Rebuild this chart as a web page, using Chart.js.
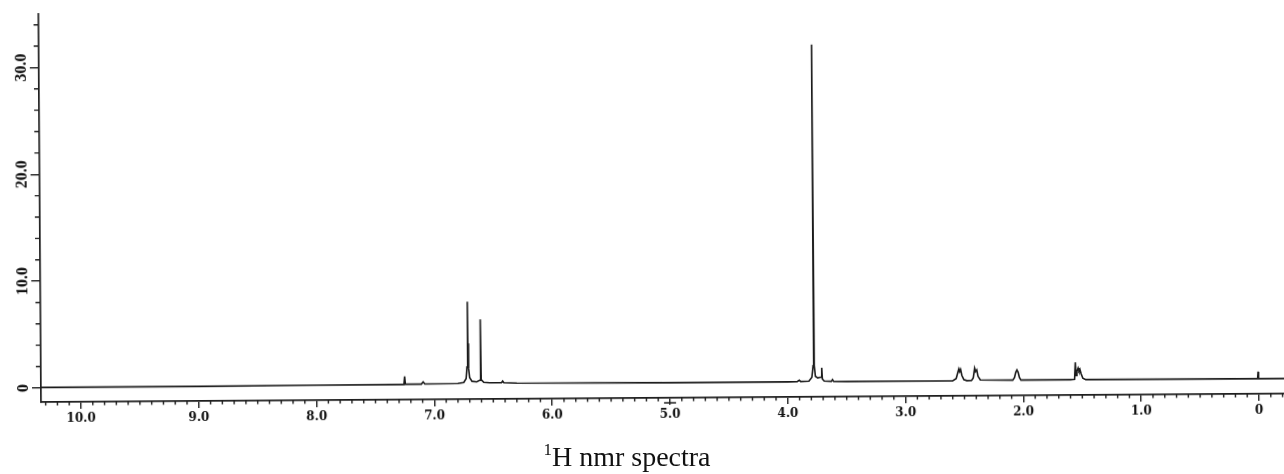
<!DOCTYPE html>
<html>
<head>
<meta charset="utf-8">
<script src="https://cdn.jsdelivr.net/npm/chart.js@4.4.1/dist/chart.umd.min.js"></script>
<style>
  html, body { margin: 0; padding: 0; background: #ffffff; }
  #wrap { position: absolute; left: 0; top: 0; width: 1284px; height: 474px; overflow: hidden; background: #fff; }
  #tilt { position: absolute; left: 0; top: 0; width: 1284px; height: 474px; transform: rotate(-0.39deg); transform-origin: 642px 237px; }
  #caption { position: absolute; left: 0; top: 443px; width: 1254px; text-align: center;
             font-family: "Liberation Serif", "Times New Roman", serif; font-size: 28px; line-height: 28px; color: #111; }
  #caption sup { font-size: 17px; line-height: 0; vertical-align: 11px; }
</style>
</head>
<body>
<div id="wrap">
  <div id="tilt"><canvas id="c" width="1284" height="474"></canvas></div>
  <div id="caption"><sup>1</sup>H nmr spectra</div>
</div>
<script>
// chemical shift (ppm) of each traced point of the spectrum
const shift = [
  10.34, 9.00, 8.00, 7.30,
  7.258, 7.252, 7.246,
  7.11, 7.095, 7.08,
  6.80, 6.75, 6.73, 6.722, 6.716, 6.713, 6.710, 6.706, 6.70, 6.68,
  6.64, 6.612, 6.607, 6.602, 6.58, 6.53,
  6.43, 6.42, 6.41, 6.30,
  5.00, 4.00, 3.92, 3.902, 3.89,
  3.82, 3.795, 3.784, 3.779, 3.774, 3.765, 3.745,
  3.725, 3.716, 3.711, 3.706, 3.69,
  3.63, 3.62, 3.61, 3.50,
  2.80, 2.60, 2.57, 2.555, 2.547, 2.540, 2.532, 2.522, 2.505, 2.48,
  2.44, 2.425, 2.413, 2.405, 2.395, 2.385, 2.365,
  2.09, 2.075, 2.064, 2.054, 2.044, 2.033, 2.02,
  1.60, 1.565, 1.558, 1.553, 1.545, 1.535, 1.528, 1.52, 1.51, 1.495, 1.47,
  0.05, 0.011, 0.007, 0.003, -0.221
];
// intensity of each traced point
const intensity = [
  0.05, 0.05, 0.08, 0.10,
  0.10, 0.85, 0.12,
  0.12, 0.32, 0.13,
  0.15, 0.25, 0.60, 1.70, 7.80, 2.20, 3.90, 1.50, 0.70, 0.35,
  0.30, 0.45, 6.15, 0.50, 0.25, 0.20,
  0.20, 0.35, 0.20, 0.15,
  0.10, 0.10, 0.12, 0.25, 0.12,
  0.15, 0.50, 1.60, 31.65, 1.60, 0.60, 0.45,
  0.50, 0.50, 1.40, 0.35, 0.15,
  0.12, 0.28, 0.12, 0.10,
  0.08, 0.10, 0.30, 0.90, 1.20, 0.95, 1.15, 0.60, 0.20, 0.10,
  0.12, 0.35, 1.25, 0.95, 1.10, 0.50, 0.15,
  0.12, 0.35, 0.85, 1.07, 0.85, 0.35, 0.12,
  0.12, 0.15, 1.74, 0.50, 0.90, 1.20, 0.95, 1.10, 0.70, 0.25, 0.12,
  0.10, 0.12, 0.75, 0.12, 0.10
];
// axis tick settings
const xMajorTicks = [10, 9, 8, 7, 6, 5, 4, 3, 2, 1, 0];
const xMinorStep = 0.1;
const yMajorTicks = [0, 10, 20, 30];
const yMinorStep = 2;
const xRange = [-0.221, 10.339];
const yRange = [-1.32, 35];

const points = shift.map((s, i) => ({ x: s, y: intensity[i] }));
const axisColor = '#1e1e1e';

const minorTicks = {
  id: 'minorTicks',
  afterDraw(chart) {
    const ctx = chart.ctx;
    const xs = chart.scales.x, ys = chart.scales.y;
    ctx.save();
    ctx.strokeStyle = axisColor;
    ctx.lineWidth = 1.4;
    ctx.beginPath();
    for (let i = Math.ceil(xRange[0] / xMinorStep); i <= Math.floor(xRange[1] / xMinorStep); i++) {
      if (i % 10 === 0) continue;
      const px = xs.getPixelForValue(i * xMinorStep);
      ctx.moveTo(px, xs.top);
      ctx.lineTo(px, xs.top + 3.5);
    }
    for (let v = yMinorStep; v < yRange[1]; v += yMinorStep) {
      if (v % 10 === 0) continue;
      const py = ys.getPixelForValue(v);
      ctx.moveTo(ys.right - 5, py);
      ctx.lineTo(ys.right, py);
    }
    // crossbar on the 5.0 tick
    const p5 = xs.getPixelForValue(5);
    ctx.moveTo(p5 - 6, xs.top + 5);
    ctx.lineTo(p5 + 6, xs.top + 5);
    ctx.stroke();
    ctx.restore();
  }
};

new Chart(document.getElementById('c'), {
  type: 'line',
  data: {
    datasets: [{
      data: points,
      borderColor: '#1a1a1a',
      borderWidth: 1.6,
      pointRadius: 0,
      tension: 0,
      fill: false
    }]
  },
  options: {
    responsive: false,
    animation: false,
    layout: { padding: { top: 10, right: 0, bottom: 0, left: 0 } },
    plugins: { legend: { display: false }, tooltip: { enabled: false }, title: { display: false } },
    scales: {
      x: {
        type: 'linear',
        position: 'bottom',
        reverse: true,
        min: xRange[0],
        max: xRange[1],
        afterFit: (s) => { s.height = 76; },
        afterBuildTicks: (s) => { s.ticks = xMajorTicks.map(v => ({ value: v })); },
        grid: { display: true, drawOnChartArea: false, drawTicks: true, tickLength: 7, color: axisColor, lineWidth: 1.4 },
        border: { display: true, color: axisColor, width: 1.7 },
        ticks: {
          autoSkip: false, maxRotation: 0, minRotation: 0, padding: 3, color: '#111',
          font: { family: 'DejaVu Serif', weight: 'bold', size: 12 },
          callback: (v) => (Math.abs(v) < 1e-9 ? '0' : Number(v).toFixed(1))
        }
      },
      y: {
        type: 'linear',
        position: 'left',
        min: yRange[0],
        max: yRange[1],
        afterFit: (s) => { s.width = 40; },
        afterBuildTicks: (s) => { s.ticks = yMajorTicks.map(v => ({ value: v })); },
        grid: { display: true, drawOnChartArea: false, drawTicks: true, tickLength: 9, color: axisColor, lineWidth: 1.4 },
        border: { display: true, color: axisColor, width: 1.7 },
        ticks: {
          autoSkip: false, minRotation: 90, maxRotation: 90, crossAlign: 'center', padding: -6, color: '#111',
          font: { family: 'Liberation Serif', weight: 'bold', size: 16 },
          callback: (v) => (Math.abs(v) < 1e-9 ? '0' : Number(v).toFixed(1))
        }
      }
    }
  },
  plugins: [minorTicks]
});
</script>
</body>
</html>
